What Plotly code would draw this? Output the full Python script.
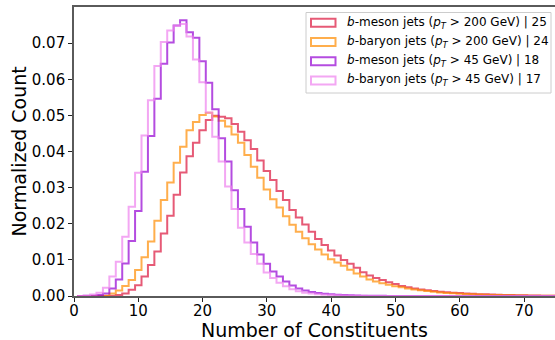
import plotly.graph_objects as go

# ---------------- data (normalized counts per integer bin) ----------------
n_constituents = list(range(1, 76))  # bin centres, bin width = 1

b_meson_200 = [0, 0, 0, 0, 0.00002, 0.0001, 0.0003, 0.0007, 0.0017, 0.0030,
               0.0054, 0.0086, 0.0123, 0.0173, 0.0222, 0.0280, 0.0342, 0.0387, 0.0424, 0.0459,
               0.0487, 0.0499, 0.0496, 0.0492, 0.0476, 0.0455, 0.0431, 0.0407, 0.0375, 0.0346,
               0.0321, 0.0291, 0.0266, 0.0238, 0.0217, 0.0198, 0.0178, 0.0158, 0.0141, 0.0126,
               0.0112, 0.0100, 0.0089, 0.0078, 0.0066, 0.0057, 0.0050, 0.0044, 0.0038, 0.0033,
               0.0028, 0.0024, 0.0021, 0.0018, 0.0016, 0.0014, 0.0012, 0.00105, 0.0009, 0.0008,
               0.0007, 0.0006, 0.0005, 0.00045, 0.0004, 0.00035, 0.0003, 0.00025, 0.0002, 0.00018,
               0.00015, 0.00012, 0.0001, 0.00008, 0.00007]

b_baryon_200 = [0, 0, 0, 0.00002, 0.0001, 0.0007, 0.0015, 0.0028, 0.0044, 0.0072,
                0.0107, 0.0151, 0.0208, 0.0266, 0.0314, 0.0369, 0.0413, 0.0459, 0.0482, 0.0501,
                0.0507, 0.0497, 0.0485, 0.0469, 0.0447, 0.0424, 0.0390, 0.0358, 0.0327, 0.0295,
                0.0268, 0.0245, 0.0221, 0.0197, 0.0178, 0.0160, 0.0143, 0.0129, 0.0115, 0.0102,
                0.0093, 0.0084, 0.0073, 0.0062, 0.0054, 0.0046, 0.0040, 0.0035, 0.0031, 0.0027,
                0.0024, 0.0021, 0.0018, 0.0016, 0.0014, 0.0012, 0.0010, 0.00085, 0.00075, 0.00065,
                0.00055, 0.00048, 0.0004, 0.00035, 0.0003, 0.00025, 0.00021, 0.00018, 0.00015, 0.00012,
                0.0001, 0.00008, 0.00007, 0.00006, 0.00005]

b_meson_45 = [0, 0.00005, 0.0001, 0.0003, 0.0007, 0.0021, 0.0046, 0.0090, 0.0152, 0.0235,
              0.0344, 0.0443, 0.0546, 0.0643, 0.0702, 0.0749, 0.0763, 0.0730, 0.0715, 0.0650,
              0.0590, 0.0517, 0.0437, 0.0372, 0.0293, 0.0241, 0.0192, 0.0148, 0.0115, 0.0089,
              0.0068, 0.0054, 0.0040, 0.0029, 0.0021, 0.0015, 0.0011, 0.0008, 0.0006, 0.00045,
              0.00034, 0.00025, 0.00019, 0.00014, 0.0001, 0.00008, 0.00006, 0.00004, 0.00003, 0.00002,
              0.00001, 0.00001, 0.00001, 0.00001, 0.00001, 0, 0, 0, 0, 0,
              0, 0, 0, 0, 0, 0, 0, 0, 0, 0,
              0, 0, 0, 0, 0]

b_baryon_45 = [0.00002, 0.0001, 0.0004, 0.0009, 0.0023, 0.0054, 0.0095, 0.0164, 0.0247, 0.0341,
               0.0444, 0.0542, 0.0637, 0.0703, 0.0735, 0.0748, 0.0753, 0.0718, 0.0655, 0.0592,
               0.0508, 0.0441, 0.0372, 0.0303, 0.0241, 0.0189, 0.0148, 0.0116, 0.0089, 0.0065,
               0.0050, 0.0037, 0.0027, 0.0019, 0.0013, 0.0009, 0.0007, 0.0005, 0.00035, 0.00025,
               0.00018, 0.00012, 0.00008, 0.00006, 0.00004, 0.00003, 0.00002, 0.00001, 0.00001, 0,
               0, 0, 0, 0, 0, 0, 0, 0, 0, 0,
               0, 0, 0, 0, 0, 0, 0, 0, 0, 0,
               0, 0, 0, 0, 0]

series_names = [
    "<i>b</i>-meson jets (<i>p</i><sub><i>T</i></sub> &gt; 200 GeV) | 25",
    "<i>b</i>-baryon jets (<i>p</i><sub><i>T</i></sub> &gt; 200 GeV) | 24",
    "<i>b</i>-meson jets (<i>p</i><sub><i>T</i></sub> &gt; 45 GeV) | 18",
    "<i>b</i>-baryon jets (<i>p</i><sub><i>T</i></sub> &gt; 45 GeV) | 17",
]
series_values = [b_meson_200, b_baryon_200, b_meson_45, b_baryon_45]
series_colors = ["rgba(220,20,60,0.7)", "rgba(255,140,0,0.7)",
                 "rgba(148,0,211,0.7)", "rgba(238,130,238,0.7)"]

x_ticks = [0, 10, 20, 30, 40, 50, 60, 70]
y_ticks = [0.00, 0.01, 0.02, 0.03, 0.04, 0.05, 0.06, 0.07]
x_title = "Number of Constituents"
y_title = "Normalized Count"

# ---------------- figure ----------------
W, H = 555, 340
PL, PR, PT, PB = 74, 555, 7, 296
FONT = "DejaVu Sans"


def px(x):
    return (x - PL) / (PR - PL)


def py(y):
    return (PB - y) / (PB - PT)


fig = go.Figure()
for name, vals, col in zip(series_names, series_values, series_colors):
    edges = [c - 0.5 for c in n_constituents] + [n_constituents[-1] + 0.5]
    ys = list(vals) + [vals[-1]]
    fig.add_trace(go.Scatter(x=edges, y=ys, mode="lines", line_shape="hv",
                             line=dict(color=col, width=2), name=name,
                             showlegend=False, hoverinfo="skip"))

# legend drawn like matplotlib's patch legend
shapes = [dict(type="rect", xref="paper", yref="paper",
               x0=px(306), x1=px(551), y0=py(93), y1=py(12.5),
               line=dict(color="#cccccc", width=1), fillcolor="rgba(255,255,255,0.8)",
               layer="above")]
annotations = []
row0, dy = 22.8, 19.2
for i, (name, col) in enumerate(zip(series_names, series_colors)):
    yc = row0 + i * dy
    shapes.append(dict(type="rect", xref="paper", yref="paper",
                       x0=px(311), x1=px(335.5), y0=py(yc + 4), y1=py(yc - 4),
                       line=dict(color=col, width=2), fillcolor="rgba(0,0,0,0)",
                       layer="above"))
    annotations.append(dict(xref="paper", yref="paper", x=px(344.5), y=py(yc),
                            xanchor="left", yanchor="middle", showarrow=False,
                            text=name, font=dict(family=FONT, size=12, color="black")))

# axis titles (placed like matplotlib's)
annotations.append(dict(xref="paper", yref="paper", x=0.5, y=py(330),
                        xanchor="center", yanchor="middle", showarrow=False,
                        text=x_title, font=dict(family=FONT, size=19, color="black")))
annotations.append(dict(xref="paper", yref="paper", x=px(18), y=0.5,
                        xanchor="center", yanchor="middle", showarrow=False,
                        textangle=-90,
                        text=y_title, font=dict(family=FONT, size=19, color="black")))

fig.update_layout(
    width=W, height=H,
    margin=dict(l=PL, r=W - PR, t=PT, b=H - PB, autoexpand=False),
    paper_bgcolor="white", plot_bgcolor="white",
    font=dict(family=FONT, color="black"),
    shapes=shapes, annotations=annotations,
    showlegend=False,
)
fig.update_xaxes(
    range=[0, 74.82], tickvals=x_ticks, ticktext=[str(t) for t in x_ticks],
    showgrid=False, zeroline=False,
    showline=True, linecolor="#5a5a5a", linewidth=1.6, mirror=True,
    ticks="outside", ticklen=4, tickwidth=1, tickcolor="#222",
    ticklabelstandoff=-4,
    tickfont=dict(family=FONT, size=15, color="black"),
    automargin=False,
)
fig.update_yaxes(
    range=[0, 0.08], tickvals=y_ticks, ticktext=[f"{t:.2f}" for t in y_ticks],
    showgrid=False, zeroline=False,
    showline=True, linecolor="#5a5a5a", linewidth=1.6, mirror=False,
    ticks="outside", ticklen=4, tickwidth=1, tickcolor="#222",
    tickfont=dict(family=FONT, size=15, color="black"),
    automargin=False,
)

fig.write_html("out.html")
